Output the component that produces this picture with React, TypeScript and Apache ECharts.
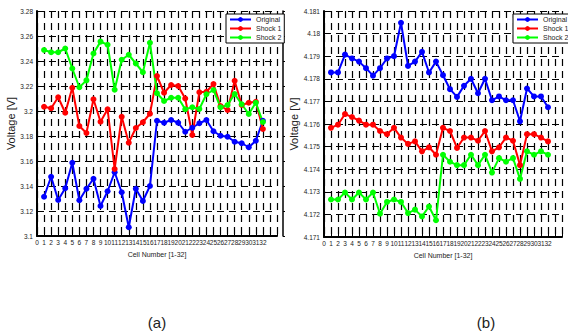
import React, { useEffect, useRef } from "react";
import * as echarts from "echarts";

const cells = [1, 2, 3, 4, 5, 6, 7, 8, 9, 10, 11, 12, 13, 14, 15, 16, 17, 18, 19, 20, 21, 22, 23, 24, 25, 26, 27, 28, 29, 30, 31, 32];
const seriesNames = ["Original", "Shock 1", "Shock 2"];
const seriesColors = ["#0000ff", "#ff0000", "#00ff00"];

// (a)
const originalA = [3.1314, 3.1474, 3.1288, 3.1382, 3.1586, 3.1286, 3.1378, 3.1458, 3.124, 3.1358, 3.151, 3.135, 3.107, 3.1378, 3.128, 3.14,
  3.1922, 3.1906, 3.1928, 3.1906, 3.1834, 3.1866, 3.1902, 3.1928, 3.1838, 3.1802, 3.1794, 3.1754, 3.1742, 3.171, 3.1762, 3.1922];
const shock1A = [3.2034, 3.2022, 3.211, 3.1986, 3.2186, 3.188, 3.1824, 3.2094, 3.1914, 3.2014, 3.1536, 3.1954, 3.1746, 3.1864, 3.191, 3.1978,
  3.228, 3.2146, 3.2208, 3.22, 3.21, 3.1808, 3.215, 3.2154, 3.2216, 3.204, 3.2008, 3.2242, 3.2048, 3.2066, 3.2074, 3.1856];
const shock2A = [3.2488, 3.247, 3.247, 3.25, 3.234, 3.219, 3.2245, 3.246, 3.2555, 3.253, 3.217, 3.241, 3.245, 3.238, 3.231, 3.2546,
  3.2142, 3.208, 3.2106, 3.2106, 3.2014, 3.203, 3.2016, 3.2134, 3.2168, 3.203, 3.2048, 3.2136, 3.2054, 3.1976, 3.2066, 3.1912];

// (b)
const originalB = [4.17828, 4.17828, 4.17907, 4.1789, 4.17876, 4.17847, 4.17814, 4.17847, 4.1789, 4.179, 4.18048, 4.17857, 4.17876, 4.17919, 4.17828, 4.17876,
  4.17816, 4.17754, 4.1772, 4.17769, 4.178, 4.17736, 4.178, 4.17705, 4.17722, 4.17705, 4.17705, 4.17612, 4.17757, 4.17722, 4.17722, 4.17674];
const shock1B = [4.17583, 4.17597, 4.17644, 4.17631, 4.17615, 4.17597, 4.17597, 4.17569, 4.17555, 4.17583, 4.1754, 4.17512, 4.17523, 4.17479, 4.17497, 4.17464,
  4.17583, 4.17569, 4.17494, 4.1754, 4.1754, 4.17526, 4.17569, 4.17479, 4.17497, 4.1754, 4.17526, 4.17418, 4.17555, 4.17555, 4.1754, 4.17523];
const shock2B = [4.17266, 4.17266, 4.17297, 4.17266, 4.17297, 4.17266, 4.17297, 4.17203, 4.17255, 4.17266, 4.17255, 4.17206, 4.17221, 4.17191, 4.17235, 4.17174,
  4.17464, 4.17433, 4.17418, 4.17418, 4.17464, 4.17418, 4.17464, 4.17385, 4.17449, 4.17433, 4.17449, 4.17357, 4.17479, 4.17464, 4.17479, 4.17464];

const yTicksA = [3.1, 3.12, 3.14, 3.16, 3.18, 3.2, 3.22, 3.24, 3.26, 3.28];
const yTicksB = [4.171, 4.172, 4.173, 4.174, 4.175, 4.176, 4.177, 4.178, 4.179, 4.18, 4.181];
const xTickMax = 32;
const xAxisMax = 34;

const FONT = "Liberation Sans";

export default function App() {
  const ref = useRef<HTMLDivElement>(null);
  useEffect(() => {
    if (!ref.current) return;
    const chart = echarts.init(ref.current, null, { renderer: "svg" });

    const xAxisCommon = (gridIndex: number, name: string) => ({
      type: "value",
      gridIndex,
      min: 0,
      max: xAxisMax,
      interval: 1,
      name,
      nameLocation: "middle",
      nameGap: 12,
      nameTextStyle: { fontSize: 7, color: "#222", fontFamily: FONT },
      axisLine: { show: true, lineStyle: { color: "#000", width: 2 } },
      axisTick: { show: true, inside: true, length: 3, lineStyle: { color: "#000" } },
      axisLabel: {
        fontSize: 6.5,
        color: "#222",
        fontFamily: FONT,
        margin: 3,
        formatter: (v: number) => (v <= xTickMax ? String(v) : ""),
      },
      splitLine: { show: true, lineStyle: { color: "#000", width: 1.2, type: [7, 5] } },
    });

    const yAxisCommon = (gridIndex: number, ticks: number[], dec: number) => ({
      type: "value",
      gridIndex,
      min: ticks[0],
      max: ticks[ticks.length - 1],
      interval: parseFloat((ticks[1] - ticks[0]).toFixed(dec)),
      name: "Voltage [V]",
      nameLocation: "middle",
      nameGap: 18,
      nameTextStyle: { fontSize: 11, color: "#222", fontFamily: FONT },
      axisLine: { show: true, lineStyle: { color: "#000", width: 2 } },
      axisTick: { show: true, inside: true, length: 3, lineStyle: { color: "#000" } },
      axisLabel: {
        fontSize: 6.5,
        color: "#222",
        fontFamily: FONT,
        margin: 4,
        formatter: (v: number) => String(parseFloat(v.toFixed(dec))),
      },
      splitLine: { show: true, lineStyle: { color: "#000", width: 1.2, type: [7, 5] } },
    });

    // right-hand frame line of panel (a)
    const yAxisRightA = {
      type: "value",
      gridIndex: 0,
      position: "right",
      offset: 6,
      min: yTicksA[0],
      max: yTicksA[yTicksA.length - 1],
      interval: 0.02,
      axisLine: { show: true, lineStyle: { color: "#000", width: 1.5 } },
      axisTick: { show: true, inside: false, length: 2, lineStyle: { color: "#000" } },
      axisLabel: { show: false },
      splitLine: { show: false },
    };

    const mk = (name: string, color: string, vals: number[], idx: number) => ({
      name,
      type: "line",
      xAxisIndex: idx,
      yAxisIndex: idx,
      data: cells.map((c, i) => [c, vals[i]]),
      symbol: "circle",
      symbolSize: 6,
      color,
      lineStyle: { width: 2, color },
      itemStyle: { color },
    });

    const legendCommon = (left: number) => ({
      data: seriesNames,
      orient: "vertical",
      left,
      top: 14,
      itemWidth: 21,
      itemHeight: 6,
      itemGap: 2,
      padding: [2, 3, 2, 3],
      backgroundColor: "#fff",
      borderColor: "#000",
      borderWidth: 1,
      borderRadius: 0,
      textStyle: { fontSize: 7, color: "#222", fontFamily: FONT },
    });

    chart.setOption({
      animation: false,
      backgroundColor: "#fff",
      grid: [
        { left: 37, top: 11, width: 240, height: 225 },
        { left: 324, top: 11, width: 238, height: 226 },
      ],
      xAxis: [xAxisCommon(0, "Cell Number [1-32]"), xAxisCommon(1, "Cell Number [1-32]")],
      yAxis: [yAxisCommon(0, yTicksA, 2), yAxisCommon(1, yTicksB, 3), yAxisRightA],
      legend: [legendCommon(226), legendCommon(513)],
      series: [
        mk(seriesNames[0], seriesColors[0], originalA, 0),
        mk(seriesNames[1], seriesColors[1], shock1A, 0),
        mk(seriesNames[2], seriesColors[2], shock2A, 0),
        mk(seriesNames[0], seriesColors[0], originalB, 1),
        mk(seriesNames[1], seriesColors[1], shock1B, 1),
        mk(seriesNames[2], seriesColors[2], shock2B, 1),
      ],
      graphic: [
        { type: "text", x: 157, y: 322, style: { text: "(a)", fontSize: 15, fill: "#222", fontFamily: FONT, align: "center", verticalAlign: "middle" } },
        { type: "text", x: 486, y: 322, style: { text: "(b)", fontSize: 15, fill: "#222", fontFamily: FONT, align: "center", verticalAlign: "middle" } },
      ],
    });
    return () => chart.dispose();
  }, []);
  return (
    <div
      ref={ref}
      style={{ position: "fixed", left: 0, top: 0, width: 568, height: 336, background: "#fff" }}
    />
  );
}
